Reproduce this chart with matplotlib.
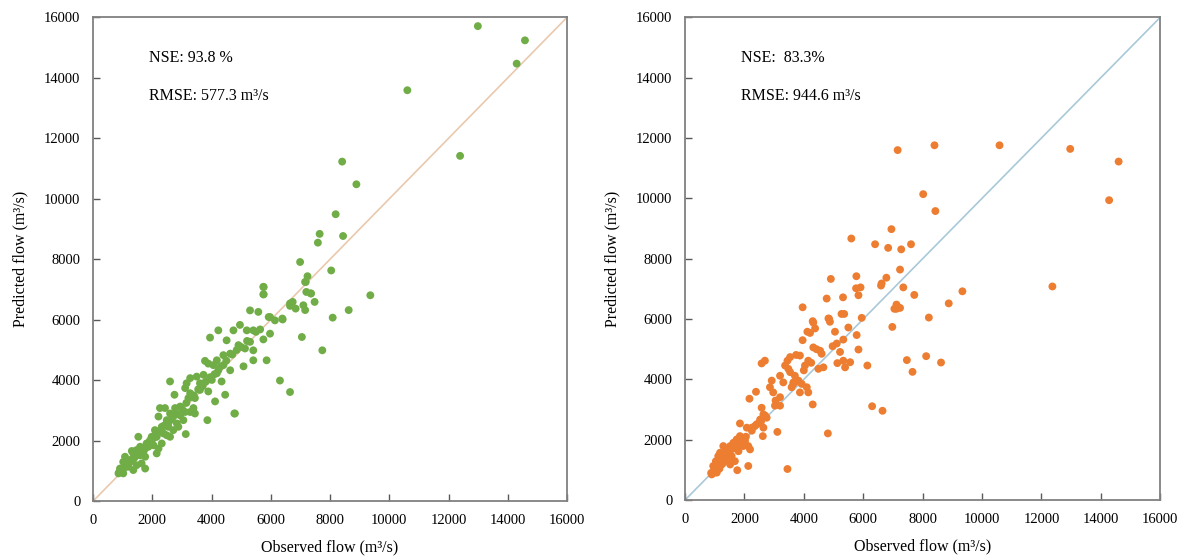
import numpy as np
import matplotlib.pyplot as plt

plt.rcParams['font.family'] = ['Liberation Serif', 'DejaVu Serif']

# Left panel (green): observed vs predicted flow
obs_left = [12990, 14580, 14300, 10610, 12390, 8410, 8890, 8190, 7650, 7590,
            8440, 8040, 9360, 8630, 8090, 7240, 7160, 7200, 7360, 7480,
            7100, 7160, 7050, 7740, 6990, 6650, 6310, 4770, 3860, 3130,
            1760, 5750, 5750, 5300, 5580, 5975, 6140, 6400, 4960, 5190,
            5410, 5640, 4230, 4740, 3950, 5750, 5975, 4510, 4910, 5130,
            5410, 5300, 5410, 5860, 5080, 4630, 4400, 4180, 3780, 3890,
            4060, 4230, 4630, 4340, 4010, 4180, 3730, 3500, 3610, 3280,
            3160, 3110, 3280, 3610, 3890, 3440, 3220, 4120, 4460, 4790,
            2600, 2750, 2940, 2770, 2600, 2260, 2430, 2210, 2490, 2710,
            2940, 3110, 3280, 3390, 3440, 2830, 2540, 2320, 2090, 2380,
            2600, 1980, 2150, 1930, 1810, 1760, 1870, 2040, 2210, 1530,
            1590, 1470, 1700, 1360, 1310, 1590, 1760, 1250, 1080, 1020,
            1190, 910, 860, 1020, 970, 1360, 1470, 1640, 1760, 2150,
            2320, 2490, 2710, 2880, 3050, 5760, 5760, 5930, 6390, 6650,
            6740, 6840, 6650, 7350, 7180, 1000, 1100, 1200, 1400, 1550,
            1650, 1900, 2000, 2300, 2500, 3000, 3350, 3700, 4100, 4400,
            950, 1050, 1150, 1250, 1350, 1450, 1600, 1700, 1850, 1950,
            2050, 2150, 2250, 2400, 2550, 2650, 2800, 3150, 3400, 3550,
            3650, 3800, 3950, 4300, 4500, 4700, 4850, 5000, 5200, 5500,
            880, 920, 1120, 1280, 1380, 1520, 1680, 1820, 2080, 2420]
pred_left = [15710, 15240, 14470, 13590, 11420, 11230, 10480, 9490, 8840, 8550,
             8770, 7630, 6810, 6320, 6070, 7440, 7250, 6920, 6870, 6590,
             6480, 6320, 5430, 4990, 7910, 3610, 3990, 2900, 2680, 2220,
             1080, 7090, 6840, 6310, 6260, 6090, 5980, 6010, 5830, 5650,
             5650, 5680, 5650, 5650, 5410, 5350, 5540, 5320, 5160, 5050,
             4990, 5270, 4660, 4660, 4460, 4880, 4830, 4660, 4640, 4550,
             4500, 4330, 4330, 3960, 4010, 4230, 4180, 4120, 3900, 4070,
             3900, 3740, 3570, 3680, 3630, 3410, 3410, 3300, 3520, 2900,
             3960, 3520, 3130, 3080, 2900, 3080, 3080, 2800, 2680, 2800,
             2840, 2950, 2950, 3080, 2900, 2570, 2460, 2460, 2350, 2240,
             2130, 2130, 2130, 2020, 1910, 1800, 1800, 1850, 1740, 2130,
             1800, 1690, 1630, 1580, 1660, 1520, 1470, 1360, 1470, 1300,
             1140, 1080, 920, 920, 1030, 1030, 1190, 1250, 1740, 1580,
             1910, 2180, 2350, 2460, 2680, 7080, 6840, 6090, 6040, 6540,
             6590, 6370, 6460, 6870, 7250, 1050, 1150, 1250, 1450, 1600,
             1750, 1950, 2050, 2350, 2600, 3050, 3450, 3800, 4200, 4500,
             1000, 1100, 1200, 1300, 1400, 1500, 1650, 1750, 1900, 2000,
             2100, 2200, 2300, 2500, 2600, 2700, 2900, 3250, 3500, 3700,
             3800, 3950, 4100, 4450, 4650, 4850, 5000, 5100, 5300, 5600,
             950, 1000, 1180, 1350, 1420, 1550, 1720, 1880, 2120, 2500]

# Right panel (orange)
obs_right = [8400, 10590, 12970, 14600, 14280, 8020, 8430, 7160, 7610, 7280,
             7240, 7350, 7720, 9340, 8880, 8210, 12370, 7240, 6950, 5600,
             6400, 6840, 4910, 5770, 6780, 6620, 6600, 5760, 5910, 5840,
             4770, 5320, 3960, 5270, 5360, 7120, 7120, 7050, 5950, 4850,
             4300, 6980, 4830, 4880, 4320, 4120, 4210, 4380, 3960, 5050,
             5500, 5780, 5330, 5110, 4970, 5220, 5840, 5330, 5130, 5390,
             5560, 6140, 7470, 8120, 8620, 7660, 6300, 6650, 4810, 3450,
             4320, 4430, 4550, 4660, 4490, 4150, 4040, 3870, 3740, 3540,
             3450, 3370, 3480, 3540, 3700, 3820, 3650, 3930, 4100, 4150,
             3870, 3590, 3310, 3200, 2920, 2860, 2970, 3200, 3030, 3200,
             2690, 2580, 2390, 2170, 4300, 3110, 2580, 2640, 2750, 2530,
             2410, 2250, 2080, 2640, 2620, 1850, 1850, 1740, 1630, 1520,
             2020, 2130, 2190, 1400, 1290, 1180, 1120, 1040, 950, 950,
             1070, 1010, 1240, 1400, 1570, 1680, 1760, 2130, 1520, 1800,
             1960, 1800, 1290, 900, 1160, 1000, 1100, 1300, 1500, 1900,
             920, 980, 1050, 1150, 1220, 1350, 1450, 1600, 1700, 1880,
             1980, 2050, 2250, 2350, 2480, 2560, 2700, 3050, 3650, 3780,
             4000, 4250, 4600, 880, 1020, 1080, 1200, 1330, 1480, 2000]
pred_right = [11760, 11760, 11640, 11220, 9940, 10140, 9580, 11600, 8480, 8310,
              7640, 7050, 6800, 6920, 6520, 6050, 7080, 6370, 8980, 8670,
              8480, 8360, 7330, 7420, 7370, 7180, 7110, 7020, 7050, 6790,
              6680, 6720, 6390, 6170, 6170, 6480, 6340, 6340, 6040, 6010,
              5930, 5740, 6020, 5910, 5880, 5580, 5540, 5690, 5300, 5580,
              5720, 5470, 5320, 5190, 5100, 4910, 4990, 4620, 4540, 4400,
              4570, 4460, 4640, 4770, 4560, 4250, 3110, 2960, 2210, 1030,
              5060, 5000, 4950, 4400, 4350, 4620, 4460, 4790, 4810, 4740,
              4620, 4460, 4350, 4240, 4120, 3960, 3900, 3850, 3740, 3570,
              3570, 3740, 3900, 4120, 3960, 3740, 3570, 3410, 3130, 3130,
              4620, 4530, 3590, 3360, 3170, 2260, 3060, 2840, 2730, 2670,
              2510, 2400, 2400, 2400, 2120, 2540, 2120, 2010, 1900, 1790,
              1960, 1790, 1680, 1620, 1790, 1570, 1460, 1290, 1130, 910,
              910, 1020, 1180, 1350, 1460, 1290, 990, 1130, 1180, 1620,
              1790, 1840, 1350, 850, 1040, 950, 1050, 1250, 1400, 1950,
              880, 1000, 1100, 1200, 1300, 1420, 1500, 1700, 1750, 1950,
              2050, 2100, 2300, 2450, 2550, 2600, 2800, 3300, 3850, 3950,
              4300, 4550, 4850, 900, 980, 1150, 1250, 1400, 1550, 2050]

ticks = np.arange(0, 16001, 2000)

fig = plt.figure(figsize=(11.94, 5.6), dpi=100)
ax1 = fig.add_axes([0.0779, 0.105, 0.397, 0.864])
ax2 = fig.add_axes([0.5737, 0.107, 0.398, 0.862])

panels = [(ax1, obs_left, pred_left, '#70ad47', '#e9c9ad',
           'NSE: 93.8 %', 'RMSE: 577.3 m\u00b3/s'),
          (ax2, obs_right, pred_right, '#ed7d31', '#a9c8d8',
           'NSE:  83.3%', 'RMSE: 944.6 m\u00b3/s')]

for ax, obs, pred, col, lcol, t1, t2 in panels:
    ax.plot([0, 16000], [0, 16000], color=lcol, lw=1.2, zorder=1)
    ax.scatter(obs, pred, s=32, color=col, edgecolors='none', zorder=2)
    ax.set_xlim(0, 16000)
    ax.set_ylim(0, 16000)
    ax.set_xticks(ticks)
    ax.set_yticks(ticks)
    ax.tick_params(direction='in', length=5, width=1, color='#595959',
                   labelsize=10.5, top=False, right=False, pad=9)
    for sp in ax.spines.values():
        sp.set_color('#808080')
        sp.set_linewidth(1.3)
    ax.set_xlabel('Observed flow (m\u00b3/s)', fontsize=11.5, labelpad=9)
    ax.set_ylabel('Predicted flow (m\u00b3/s)', fontsize=11.5, labelpad=11)
    ax.text(1900, 14650, t1, fontsize=11.5, va='center')
    ax.text(1900, 13400, t2, fontsize=11.5, va='center')

fig.savefig('out.png', dpi=100)
